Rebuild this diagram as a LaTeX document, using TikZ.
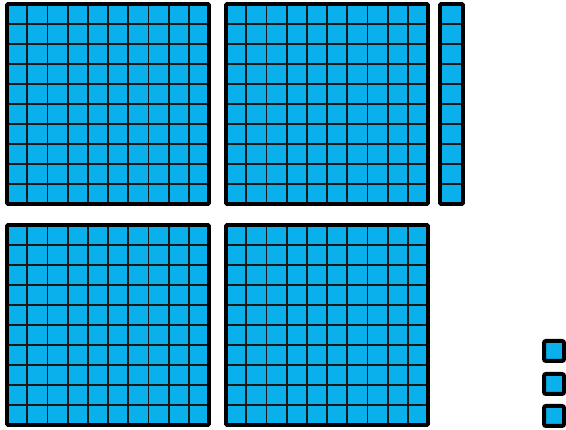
\documentclass[tikz,border=0pt]{standalone}
\usepackage{xcolor}
\usepackage{tikz}

\definecolor{unitblue}{RGB}{10,176,236}

% one hundred-flat, top-left corner at (#1,#2)
\newcommand{\hundredflat}[2]{%
  \fill[unitblue] (#1,#2) rectangle ++(202,200);
  \foreach \k in {1,...,9} {
    \draw[gridline] (#1+\k*20.2,#2) -- ++(0,200);
    \draw[gridline] (#1,#2+\k*20) -- ++(202,0);
  }
  \draw[edge] (#1,#2) rectangle ++(202,200);
}

\begin{document}
\begin{tikzpicture}[
  x=1pt, y=-1pt,
  gridline/.style={line width=1.8pt, black!90},
  edge/.style={line width=3.6pt, black, rounded corners=1pt},
  cube/.style={fill=unitblue, line width=4pt, draw=black, rounded corners=2pt}
]
\useasboundingbox (0,0) rectangle (566,430);

% ---- hundreds ----
\hundredflat{7}{4}
\hundredflat{226}{4}
\hundredflat{7}{225}
\hundredflat{226}{225}

% ---- ten rod ----
\fill[unitblue] (440,4) rectangle (463,204);
\foreach \k in {1,...,9}
  \draw[gridline] (440,4+\k*20) -- (463,4+\k*20);
\draw[edge] (440,4) rectangle (463,204);

% ---- ones ----
\foreach \y in {341,374,406}
  \draw[cube] (544,\y) rectangle ++(20,20);

\end{tikzpicture}
\end{document}
